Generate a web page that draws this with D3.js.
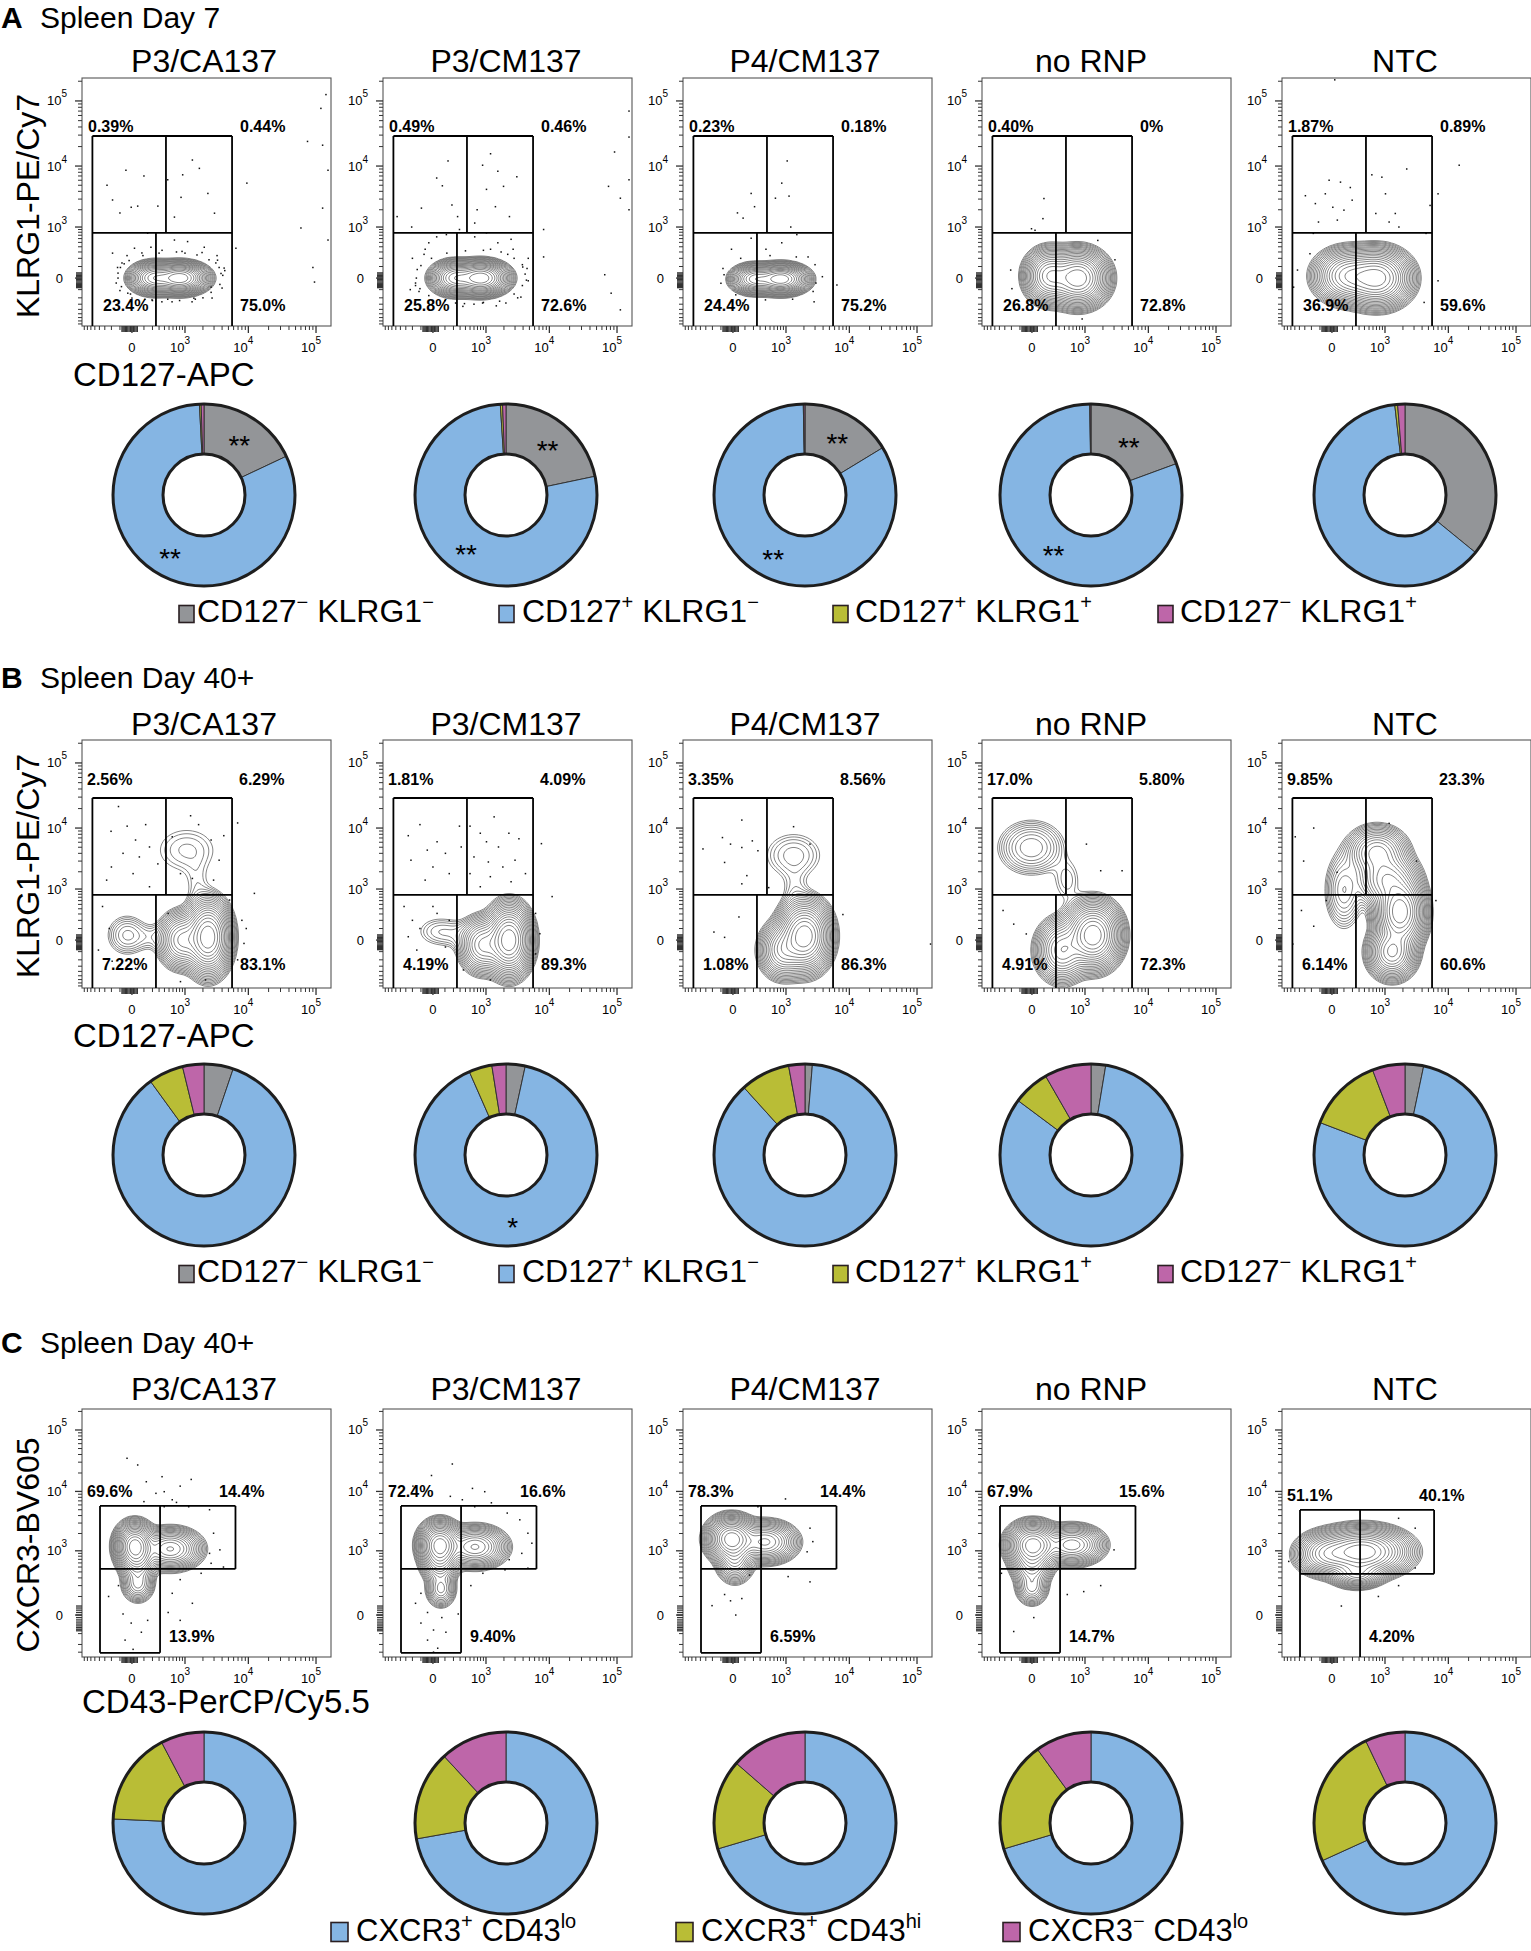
<!DOCTYPE html>
<html>
<head>
<meta charset="utf-8">
<title>Spleen flow cytometry</title>
<script src="https://cdn.jsdelivr.net/npm/d3@7/dist/d3.min.js"></script>
<style>
html,body{margin:0;padding:0;background:#fff;}
svg{display:block;}
text{font-family:"Liberation Sans",Arial,Helvetica,sans-serif;fill:#000;}
</style>
</head>
<body>
<svg id="fig" width="1531" height="1951" viewBox="0 0 1531 1951"></svg>
<script>
// ================= DATA =================
const samples = ["P3/CA137", "P3/CM137", "P4/CM137", "no RNP", "NTC"];
const panelLetters = ["A", "B", "C"];
const panelTitles = ["Spleen Day 7", "Spleen Day 40+", "Spleen Day 40+"];
const yAxisTitles = ["KLRG1-PE/Cy7", "KLRG1-PE/Cy7", "CXCR3-BV605"];
const xAxisTitles = ["CD127-APC", "CD127-APC", "CD43-PerCP/Cy5.5"];
const majorTicks = [0, 1e3, 1e4, 1e5];
const majorTickLabels = [["0", ""], ["10", "3"], ["10", "4"], ["10", "5"]];

// quadrant frequencies [top-left, top-right, bottom-left, bottom-right]
const pctA = [
  ["0.39%", "0.44%", "23.4%", "75.0%"],
  ["0.49%", "0.46%", "25.8%", "72.6%"],
  ["0.23%", "0.18%", "24.4%", "75.2%"],
  ["0.40%", "0%", "26.8%", "72.8%"],
  ["1.87%", "0.89%", "36.9%", "59.6%"]
];
const pctB = [
  ["2.56%", "6.29%", "7.22%", "83.1%"],
  ["1.81%", "4.09%", "4.19%", "89.3%"],
  ["3.35%", "8.56%", "1.08%", "86.3%"],
  ["17.0%", "5.80%", "4.91%", "72.3%"],
  ["9.85%", "23.3%", "6.14%", "60.6%"]
];
// [CXCR3+ CD43lo, CXCR3+ CD43hi, CXCR3- CD43lo]
const pctC = [
  ["69.6%", "14.4%", "13.9%"],
  ["72.4%", "16.6%", "9.40%"],
  ["78.3%", "14.4%", "6.59%"],
  ["67.9%", "15.6%", "14.7%"],
  ["51.1%", "40.1%", "4.20%"]
];

// donut compositions (clockwise from 12 o'clock)
// A,B: [CD127- KLRG1-, CD127+ KLRG1-, CD127+ KLRG1+, CD127- KLRG1+]
const donutA = [
  [18.0, 81.2, 0.3, 0.5],
  [21.7, 77.3, 0.4, 0.6],
  [16.3, 83.4, 0.1, 0.2],
  [19.4, 80.4, 0.05, 0.15],
  [35.9, 62.3, 0.5, 1.3]
];
const donutB = [
  [5.2, 84.8, 6.2, 3.8],
  [3.4, 90.0, 4.1, 2.5],
  [1.3, 87.0, 8.8, 2.9],
  [2.6, 82.6, 6.5, 8.3],
  [3.3, 77.5, 13.4, 5.8]
];
// C: [CXCR3+ CD43lo, CXCR3+ CD43hi, CXCR3- CD43lo]
const donutC = [
  [75.7, 16.6, 7.7],
  [72.2, 15.9, 11.9],
  [70.4, 16.0, 13.6],
  [70.4, 19.6, 10.0],
  [68.2, 24.7, 7.1]
];
// significance marks per slice
const starsA = [["**", "**"], ["**", "**"], ["**", "**"], ["**", "**"], [null, null]];
const starsB = [[null, null], [null, "*"], [null, null], [null, null], [null, null]];

const legendAB = [
  [["CD127", 0], ["\u2212", 1], [" KLRG1", 0], ["\u2212", 1]],
  [["CD127", 0], ["+", 1], [" KLRG1", 0], ["\u2212", 1]],
  [["CD127", 0], ["+", 1], [" KLRG1", 0], ["+", 1]],
  [["CD127", 0], ["\u2212", 1], [" KLRG1", 0], ["+", 1]]
];
const legendC = [
  [["CXCR3", 0], ["+", 1], [" CD43", 0], ["lo", 1]],
  [["CXCR3", 0], ["+", 1], [" CD43", 0], ["hi", 1]],
  [["CXCR3", 0], ["\u2212", 1], [" CD43", 0], ["lo", 1]]
];
const colorsAB = ["#939598", "#85b5e3", "#b9bd36", "#be66a9"];
const colorsC = ["#85b5e3", "#b9bd36", "#be66a9"];

// gate thresholds (fluorescence units)
const gatesAB = { xl: -560, xlo: 250, xhi: 431, xr: 5681, yt: 29100, ym: 775 };
const gatesC = [
  { xl: -388, xs: 317, xr: 6400, yt: 5780, ym: 460, yb: -310 },
  { xl: -388, xs: 317, xr: 6400, yt: 5780, ym: 460, yb: -310 },
  { xl: -388, xs: 317, xr: 6400, yt: 5780, ym: 460, yb: -310 },
  { xl: -388, xs: 317, xr: 6400, yt: 5780, ym: 460, yb: -310 },
  { xl: -388, xs: 317, xr: 6100, yt: 4960, ym: 365, yb: null }
];

// population density components: [centre x, centre y, spread x, spread y (symlog units), peak]
const blobsA = [
  [[816, 0, 0.38, 0.22, 1], [222, 0, 0.34, 0.23, 0.55]],
  [[816, 0, 0.38, 0.24, 1], [222, 0, 0.34, 0.245, 0.55]],
  [[816, -7, 0.37, 0.21, 1], [222, -7, 0.33, 0.21, 0.55]],
  [[749, 0, 0.41, 0.40, 1], [168, 15, 0.35, 0.39, 0.6]],
  [[717, 0, 0.47, 0.41, 1], [150, 15, 0.47, 0.39, 0.6]]
];
const blobsB = [
  [[2416, 22, 0.32, 0.54, 1], [886, 0, 0.34, 0.42, 0.3], [-36, 38, 0.355, 0.37, 0.03], [194, 22, 0.4, 0.28, 0.012], [1065, 4505, 0.68, 0.53, 0.014], [1604, 1183, 0.27, 0.53, 0.008]],
  [[2416, 0, 0.32, 0.51, 1], [886, -38, 0.34, 0.42, 0.3], [45, 70, 0.45, 0.31, 0.015], [300, 40, 0.4, 0.3, 0.01]],
  [[2047, 31, 0.37, 0.51, 1], [886, -84, 0.34, 0.42, 0.3], [1350, 3725, 0.57, 0.47, 0.02], [1420, 957, 0.27, 0.49, 0.01]],
  [[1370, 38, 0.39, 0.48, 1], [353, -84, 0.37, 0.46, 0.35], [-4, 4920, 0.53, 0.45, 0.06], [455, 1442, 0.3, 0.49, 0.012]],
  [[1795, 338, 0.35, 0.53, 1], [1323, -105, 0.34, 0.39, 0.5], [717, 4100, 0.44, 0.39, 0.25], [1086, 1442, 0.44, 0.42, 0.35], [101, 957, 0.3, 0.63, 0.06]]
];
const blobsC = [
  [[21, 1221, 0.27, 0.355, 1], [530, 1080, 0.44, 0.32, 0.4], [45, 655, 0.27, 0.34, 0.25], [45, 220, 0.24, 0.3, 0.12]],
  [[53, 1271, 0.29, 0.355, 1], [629, 1173, 0.44, 0.32, 0.4], [53, 627, 0.27, 0.34, 0.25], [62, 166, 0.22, 0.3, 0.12]],
  [[-10, 1615, 0.34, 0.34, 1], [395, 1430, 0.44, 0.32, 0.4], [14, 713, 0.27, 0.37, 0.22]],
  [[7, 1271, 0.355, 0.34, 1], [575, 1271, 0.44, 0.3, 0.45], [0, 575, 0.3, 0.34, 0.25], [0, 186, 0.24, 0.3, 0.12]],
  [[353, 956, 0.64, 0.37, 1], [-36, 880, 0.44, 0.34, 0.35], [267, 365, 0.37, 0.22, 0.3]]
];

// outlier events [x, y]
const dotsA = [
  [[-264,5000],[-45,8600],[100,7000],[-5,2200],[43,2300],[-100,1765],[-185,2900],[470,6100],[910,7300],[1340,12400],[1750,9200],[850,3200],[2400,3700],[3050,1750],[640,1500],[280,2300],[140,770],[9500,5400],[75000,24000],[125000,21000],[140000,125000],[118000,77000],[60000,960],[90000,90],[150000,560],[95000,-30],[125000,2130],[150000,8600],[6500,370],[-185,280],[-125,90],[-140,-38],[-30,-140],[2700,-75],[3400,175],[2100,390],[180,390],[640,560],[1110,520],[18,370],[3850,35],[470,-220],[1420,-205],[-80,140],[-36,240],[80,283],[353,330],[886,310],[1935,290],[3342,240],[4300,84],[3998,-84],[2794,-203],[1323,-260],[575,-260],[194,-230],[0,-203],[-100,-110],[-120,38],
   [4100,20],[3600,90],[2500,180],[1600,250],[700,300],[300,280],[90,240],[-20,170],[-95,90],[-120,0],[-85,-70],[-10,-150],[110,-220],[350,-260],[800,-240],[1500,-220],[2700,-130],[3700,-50],[4400,60],[3200,140],[-60,130],[1000,280],[2000,-200],[200,-240]],
  [[133,12000],[27,6500],[75,4900],[-95,2130],[-470,1530],[-210,1000],[180,2400],[260,1530],[870,10300],[1200,15500],[1590,8300],[3200,6800],[1020,4300],[1970,4800],[690,2000],[1450,2250],[2450,1530],[620,1180],[75000,4800],[92000,16500],[112000,3100],[150000,70000],[150000,28000],[150000,6100],[150000,2000],[8200,900],[8200,220],[66000,25],[82000,-140],[112000,-410],[-140,70],[-160,-38],[-60,350],[27,650],[290,900],[620,650],[1590,490],[2800,350],[3950,95],[4500,-15],[3700,-190],[2150,-280],[870,-280],[230,-280],[-2,-240],[-120,-120],[-30,490],[115,720],[1020,780],[2600,580],[-200,200],[-230,-100],[4800,200],[350,-340],[1500,-330],
   [4300,30],[3900,120],[2900,200],[1800,300],[900,330],[400,320],[120,280],[-10,200],[-100,110],[-150,0],[-110,-90],[-30,-170],[100,-240],[380,-290],[900,-270],[1700,-250],[2900,-150],[3900,-60],[4600,80],[-70,260],[1200,350],[2300,260],[600,-300],[3300,-200],[-160,-60],[4800,-20]],
  [[170,3700],[33,1770],[82,1440],[215,2250],[640,3100],[840,5400],[1050,12000],[1130,3350],[1210,1000],[1530,720],[170,610],[840,490],[410,350],[-70,25],[-10,350],[3100,-38],[2900,-260],[80,-280],[6500,-55],[2330,220],
   [3900,10],[3000,120],[1500,220],[500,240],[60,200],[-80,80],[-100,-40],[20,-160],[400,-230],[1300,-220],[2800,-120]],
  [[100,3060],[90,1410],[-3,930],[22,870],[-193,-90],[890,-640],[3100,180],[1650,550],[-210,65]],
  [[20,210000],[-290,3400],[-150,2530],[-20,6000],[67,5600],[172,4600],[-50,3650],[6,2200],[100,1970],[196,2880],[40,1330],[-115,1230],[570,7300],[880,6700],[1020,3650],[680,1730],[1500,1730],[2300,9000],[1180,1230],[1720,1000],[14500,10300],[7000,3650],[5300,2360],[-440,65],[-530,-75],[4600,760],[7000,-20],[4300,-270],[-175,760],[-220,270]]
];
const dotsB = [
  [[-115,21500],[-205,8900],[-35,10700],[26,6500],[118,11300],[162,5050],[-70,4000],[57,3500],[280,2700],[-200,2400],[8,1860],[-270,1440],[162,1100],[580,7300],[1250,15500],[1700,11300],[2700,6500],[3600,3100],[4250,7600],[6900,12000],[830,1860],[1340,1540],[2950,1440],[-340,450],[-230,100],[-420,-84],[-190,-220],[26,-340],[480,310],[5200,615],[8000,200],[9300,100],[8600,-25],[6900,-200],[2200,-610],[830,-660],[12300,830]],
  [[1380,14900],[-260,7600],[-110,11300],[-42,4500],[30,6100],[105,4000],[290,10700],[320,5050],[-220,3100],[0,2400],[147,1860],[-60,1440],[500,10700],[790,8300],[1020,6100],[1630,5050],[2400,8300],[3450,6800],[600,3500],[1100,2900],[1920,2400],[3000,3100],[4350,1860],[500,1860],[1190,1650],[2600,1350],[790,1100],[7600,5700],[11000,720],[-330,450],[-200,200],[-110,100],[-260,25],[-145,-84],[-28,-200],[105,-55],[30,310],[147,200],[0,450],[360,-370],[6200,310],[7200,50],[6200,-125],[1190,-610]],
  [[70,13300],[-85,7100],[-350,4700],[-17,5600],[70,4950],[185,6300],[265,4400],[-65,2850],[120,1720],[70,1240],[470,1060],[45,250],[-65,20],[-180,65],[8000,290],[158000,-30],[1350,10500],[2500,5600]],
  [[-330,365],[-170,150],[-42,48],[1060,5600],[1840,2080],[4000,2080]],
  [[-490,7300],[-170,10000],[-320,3000],[-42,600],[-360,365],[-170,125],[-550,-30],[38,1960],[3280,3000],[6500,600],[1180,11800]]
];
const dotsC = [
  [[-36,34700],[43,27000],[125,14400],[353,17400],[1280,15700],[250,9300],[580,7300],[700,6600],[100,6800],[395,5600],[1160,5600],[2550,5000],[2950,2020],[2550,900],[3700,1040],[2700,590],[4200,500],[1870,375],[820,275],[580,125],[480,10],[820,-22],[-115,200],[-240,100],[-70,4],[-5,-35],[75,-90],[-52,-155],[8,-260],[140,-22],[1340,55],[820,12200],[395,9900]],
  [[185,28000],[-10,18200],[-193,12200],[560,11200],[950,9900],[160,8300],[340,7300],[1240,6500],[620,5600],[2260,4400],[3560,3400],[4740,2020],[5450,1360],[3820,900],[2430,690],[4740,475],[880,375],[520,200],[2080,440],[-100,125],[-160,55],[-40,10],[-100,-35],[4,-75],[-40,-155],[35,-245],[70,-10],[110,-90],[270,4],[4,-300]],
  [[980,7530],[265,5600],[2500,2460],[2770,1450],[2250,960],[1090,320],[2500,245],[-65,115],[-17,70],[70,85],[-205,42],[150,345],[20,0]],
  [[1840,200],[460,115],[950,140],[3000,1040],[-170,-85],[13,-10],[-360,375]],
  [[1700,3600],[3130,2460],[1700,200],[760,100],[75,40],[3130,480],[-660,640]]
];

// ================= LAYOUT =================
const L = {
  colLeft: [82, 383, 683, 982, 1282],
  colCenter: [204, 506, 805, 1091, 1405],
  boxW: 249, boxH: 248,
  boxTop: [78, 740, 1409],
  titleBase: [28, 688, 1353],
  colTitleBase: [72, 735, 1400],
  yTitleMid: [206, 866, 1545],
  xTitleBase: [386, 1047, 1713],
  xTitleX: [73, 73, 82],
  donutCy: [495, 1155, 1823],
  rOut: 91, rIn: 41,
  legendY: [614, 1274, 1932],
  legBaseC: 1941,
  legSqAB: [179, 499, 833, 1158],
  legTxAB: [197, 522, 855, 1180],
  legSqC: [331, 676, 1003],
  legTxC: [356, 701, 1028]
};
const xDomain = [-880, 166000];
const yDomainAB = [-875, 224000];
const yDomainC = [-379, 219000];

const svg = d3.select("#fig");
svg.append("rect").attr("width", 1531).attr("height", 1951).attr("fill", "#fff");

function T(v, c) { return Math.sign(v) * Math.log1p(Math.abs(v) / c); }

function addRich(sel, parts, supSize, rise) {
  let up = false;
  parts.forEach(([s, isSup]) => {
    const t = sel.append("tspan").text(s);
    if (isSup) {
      t.attr("font-size", supSize);
      if (!up) { t.attr("dy", -rise); up = true; }
    } else if (up) {
      t.attr("dy", rise); up = false;
    }
  });
}

// ================= HEADERS =================
for (let p = 0; p < 3; p++) {
  svg.append("text").attr("x", 1).attr("y", L.titleBase[p])
    .attr("font-size", 30).attr("font-weight", "bold").text(panelLetters[p]);
  svg.append("text").attr("x", 40).attr("y", L.titleBase[p])
    .attr("font-size", 30).text(panelTitles[p]);
  samples.forEach((s, i) => {
    svg.append("text").attr("x", L.colCenter[i]).attr("y", L.colTitleBase[p])
      .attr("text-anchor", "middle").attr("font-size", 32).text(s);
  });
  svg.append("text").attr("transform", `translate(39,${L.yTitleMid[p]}) rotate(-90)`)
    .attr("text-anchor", "middle").attr("font-size", 32).text(yAxisTitles[p]);
  svg.append("text").attr("x", L.xTitleX[p]).attr("y", L.xTitleBase[p])
    .attr("font-size", 33).text(xAxisTitles[p]);
}

// ================= FLOW PLOTS =================
const minorBase = [100, 200, 300, 400, 500, 600, 700, 800, 900];
const minorVals = [...minorBase.map(v => -v), ...minorBase,
  ...d3.range(2, 10).map(m => m * 1e3), ...d3.range(2, 10).map(m => m * 1e4), 2e5];
const clusterVals = d3.range(-80, 41, 10);

function drawPlot(p, col) {
  const left = L.colLeft[col], top = L.boxTop[p];
  const W = L.boxW, H = L.boxH;
  const isC = p === 2;
  const cx = 200, cy = isC ? 100 : 200;
  const x = d3.scaleSymlog().constant(cx).domain(xDomain).range([0, W]);
  const y = d3.scaleSymlog().constant(cy).domain(isC ? yDomainC : yDomainAB).range([H, 0]);
  const ppuX = W / (T(x.domain()[1], cx) - T(x.domain()[0], cx));
  const ppuY = H / (T(y.domain()[1], cy) - T(y.domain()[0], cy));
  const g = svg.append("g").attr("transform", `translate(${left},${top})`);
  const clipId = `clip-${p}-${col}`;
  g.append("clipPath").attr("id", clipId).append("rect").attr("width", W).attr("height", H);
  const inner = g.append("g").attr("clip-path", `url(#${clipId})`);

  // density contours
  const blobs = [blobsA, blobsB, blobsC][p][col];
  const cell = 2;
  const nx = Math.ceil(W / cell), ny = Math.ceil(H / cell);
  const comps = blobs.map(b => ({ px: x(b[0]), py: y(b[1]), sx: b[2] * ppuX, sy: b[3] * ppuY, a: b[4] }));
  const values = new Float64Array(nx * ny);
  for (let j = 0; j < ny; j++) {
    const py = (j + 0.5) * cell;
    for (let i = 0; i < nx; i++) {
      const px = (i + 0.5) * cell;
      let s = 0;
      for (const c of comps) {
        const dx = (px - c.px) / c.sx, dy = (py - c.py) / c.sy;
        s += c.a * Math.exp(-0.5 * (dx * dx + dy * dy));
      }
      values[j * nx + i] = s;
    }
  }
  const maxD = d3.max(values);
  const N = 20;
  const th = d3.range(1, N + 1).map(k => maxD * Math.pow(0.006, k / N));
  const contours = d3.contours().size([nx, ny]).thresholds(th)(values);
  const path = d3.geoPath(d3.geoIdentity().scale(cell));
  inner.selectAll("path.ct").data(contours).join("path").attr("class", "ct")
    .attr("d", path).attr("fill", "none").attr("stroke", "#707070").attr("stroke-width", 0.85);

  // outlier events
  const dots = [dotsA, dotsB, dotsC][p][col];
  inner.selectAll("rect.ev").data(dots).join("rect").attr("class", "ev")
    .attr("x", d => x(d[0]) - 0.75).attr("y", d => y(d[1]) - 0.75)
    .attr("width", 1.5).attr("height", 1.5).attr("fill", "#111");

  // frame
  g.append("rect").attr("width", W).attr("height", H).attr("fill", "none")
    .attr("stroke", "#555").attr("stroke-width", 1.1);

  // ticks
  const tk = g.append("g").attr("stroke", "#333").attr("stroke-width", 1);
  const inX = v => v >= x.domain()[0] && v <= x.domain()[1];
  const inY = v => v >= y.domain()[0] && v <= y.domain()[1];
  minorVals.filter(inX).forEach(v => tk.append("line").attr("x1", x(v)).attr("x2", x(v)).attr("y1", H).attr("y2", H + 4));
  minorVals.filter(inY).forEach(v => tk.append("line").attr("x1", 0).attr("x2", -4).attr("y1", y(v)).attr("y2", y(v)));
  clusterVals.forEach(v => {
    tk.append("line").attr("x1", x(v)).attr("x2", x(v)).attr("y1", H).attr("y2", H + 6).attr("stroke-width", 1.3);
    tk.append("line").attr("x1", 0).attr("x2", -6).attr("y1", y(v)).attr("y2", y(v)).attr("stroke-width", 1.3);
  });
  majorTicks.forEach((v, k) => {
    tk.append("line").attr("x1", x(v)).attr("x2", x(v)).attr("y1", H).attr("y2", H + 7).attr("stroke-width", 1.3);
    tk.append("line").attr("x1", 0).attr("x2", -7).attr("y1", y(v)).attr("y2", y(v)).attr("stroke-width", 1.3);
    const [base, ex] = majorTickLabels[k];
    const xt = g.append("text").attr("font-size", 13).attr("fill", "#222").attr("y", H + 26);
    if (ex) {
      xt.attr("x", x(v) + 5).attr("text-anchor", "end");
      addRich(xt, [[base, 0], [ex, 1]], 10, 8);
    } else {
      xt.attr("x", x(v)).attr("text-anchor", "middle").text(base);
    }
    const yt = g.append("text").attr("font-size", 13).attr("fill", "#222")
      .attr("y", y(v) + 4.5).attr("text-anchor", "end");
    if (ex) {
      yt.attr("x", -15);
      addRich(yt, [[base, 0], [ex, 1]], 10, 8);
    } else {
      yt.attr("x", -19).text(base);
    }
  });

  // gates
  const gl = g.append("g").attr("stroke", "#000").attr("stroke-width", 1.8).attr("fill", "none");
  const line = (x1, y1, x2, y2) => gl.append("line").attr("x1", x1).attr("y1", y1).attr("x2", x2).attr("y2", y2);
  const lab = (tx, ty, s) => g.append("text").attr("x", tx).attr("y", ty)
    .attr("font-size", 16).attr("font-weight", "bold").text(s);
  if (!isC) {
    const G = gatesAB;
    const xl = x(G.xl), xlo = x(G.xlo), xhi = x(G.xhi), xr = x(G.xr), yt = y(G.yt), ym = y(G.ym);
    line(xl, yt, xr, yt); line(xl, yt, xl, H); line(xr, yt, xr, H);
    line(xl, ym, xr, ym); line(xhi, yt, xhi, ym); line(xlo, ym, xlo, H);
    const pct = p === 0 ? pctA[col] : pctB[col];
    const pos = p === 0 ? [[6, 54], [158, 54], [21, 233], [158, 233]]
                        : [[5, 45], [157, 45], [20, 230], [158, 230]];
    pct.forEach((s, k) => lab(pos[k][0], pos[k][1], s));
  } else {
    const G = gatesC[col];
    const xl = x(G.xl), xs = x(G.xs), xr = x(G.xr), yt = y(G.yt), ym = y(G.ym);
    const yb = G.yb === null ? H : y(G.yb);
    line(xl, yt, xr, yt); line(xl, yt, xl, yb); line(xs, yt, xs, yb);
    line(xr, yt, xr, ym); line(xl, ym, xr, ym);
    if (G.yb !== null) line(xl, yb, xs, yb);
    const pct = pctC[col];
    lab(5, yt - 9, pct[0]);
    lab(137, yt - 9, pct[1]);
    lab(xs + 9, 233, pct[2]);
  }
}

for (let p = 0; p < 3; p++) for (let c = 0; c < 5; c++) drawPlot(p, c);

// ================= DONUTS =================
const pie = d3.pie().sort(null).value(d => d);
const arc = d3.arc().innerRadius(L.rIn).outerRadius(L.rOut);

function drawDonut(p, col) {
  const vals = [donutA, donutB, donutC][p][col];
  const colors = p === 2 ? colorsC : colorsAB;
  const g = svg.append("g").attr("transform", `translate(${L.colCenter[col]},${L.donutCy[p]})`);
  const arcs = pie(vals);
  g.selectAll("path").data(arcs).join("path")
    .attr("d", arc).attr("fill", (d, i) => colors[i])
    .attr("stroke", "#333").attr("stroke-width", 1);
  g.append("circle").attr("r", L.rOut).attr("fill", "none").attr("stroke", "#1e1e1e").attr("stroke-width", 3);
  g.append("circle").attr("r", L.rIn).attr("fill", "#fff").attr("stroke", "#1e1e1e").attr("stroke-width", 3);
  const stars = p === 0 ? starsA[col] : p === 1 ? starsB[col] : [];
  stars.forEach((s, i) => {
    if (!s) return;
    const [sx, sy] = arc.centroid(arcs[i]);
    g.append("text").attr("x", sx).attr("y", sy + 16).attr("text-anchor", "middle")
      .attr("font-size", 28).text(s);
  });
}
for (let p = 0; p < 3; p++) for (let c = 0; c < 5; c++) drawDonut(p, c);

// ================= LEGENDS =================
for (let p = 0; p < 3; p++) {
  const isC = p === 2;
  const items = isC ? legendC : legendAB;
  const colors = isC ? colorsC : colorsAB;
  const sqX = isC ? L.legSqC : L.legSqAB;
  const txX = isC ? L.legTxC : L.legTxAB;
  const cyL = L.legendY[p];
  const sw = isC ? 17 : 15, sh = isC ? 19 : 17;
  items.forEach((parts, i) => {
    svg.append("rect").attr("x", sqX[i]).attr("y", cyL - sh / 2).attr("width", sw).attr("height", sh)
      .attr("fill", colors[i]).attr("stroke", "#2a1f22").attr("stroke-width", 1.6);
    const t = svg.append("text").attr("x", txX[i]).attr("y", isC ? L.legBaseC : cyL + 8)
      .attr("font-size", isC ? 31 : 32);
    addRich(t, parts, 20, 13);
  });
}
</script>
</body>
</html>
